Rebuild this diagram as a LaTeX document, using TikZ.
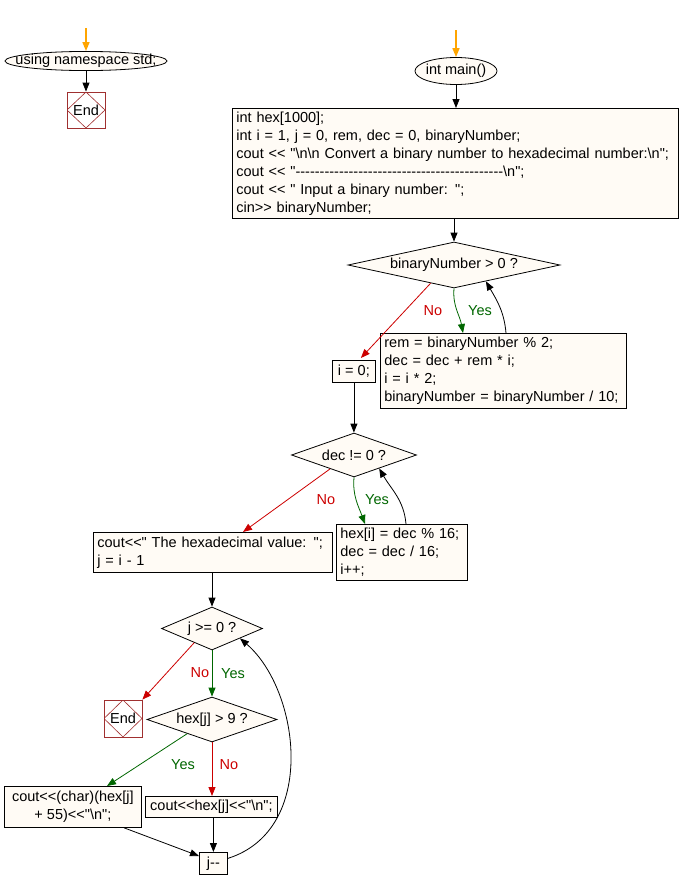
\documentclass[tikz,border=0pt]{standalone}
\usepackage{fontspec}
\setmainfont{Liberation Sans}[Ligatures=TeXOff]
\usepackage{xcolor}
\usetikzlibrary{shapes.geometric,arrows.meta,calc}

\definecolor{boxfill}{HTML}{FFFBF5}
\definecolor{endred}{HTML}{A03030}
\definecolor{nored}{HTML}{CC0000}
\definecolor{yesgreen}{HTML}{006600}
\definecolor{startorange}{HTML}{FFA500}

% text of zero width, so the shape keeps its given size
\newcommand{\zw}[1]{\makebox[0pt]{#1}}

\tikzset{
  proc/.style={draw, fill=boxfill, anchor=north west, align=left, inner xsep=4pt, inner ysep=0pt},
  small/.style={draw, fill=boxfill, anchor=north west, inner sep=0pt},
  term/.style={ellipse, draw, fill=boxfill, inner sep=0pt},
  cond/.style={diamond, draw, fill=boxfill, inner sep=0pt, aspect=4},
  endbox/.style={draw=endred, fill=white, minimum width=38, minimum height=36, inner sep=0pt,
    path picture={\draw[endred, line width=0.6pt] (path picture bounding box.north) -- (path picture bounding box.east)
      -- (path picture bounding box.south) -- (path picture bounding box.west) -- cycle;}},
  arr/.style={-{Triangle[length=9pt,width=7pt]}},
  startarr/.style={arr, draw=startorange, line width=1.6pt},
  noarr/.style={arr, draw=nored},
  yesarr/.style={arr, draw=yesgreen},
  nolab/.style={text=nored},
  yeslab/.style={text=yesgreen}
}

\begin{document}
\begin{tikzpicture}[x=1pt,y=-1pt,line width=0.8pt,font=\fontsize{14.5}{18}\selectfont]
\useasboundingbox (0,0) rectangle (678,889);

% using namespace
\coordinate (s1) at (86,28);
\node[term, minimum width=162, minimum height=18] (ns) at (86,61) {\zw{using namespace std;}};
\node[endbox] (end1) at (86,110) {End};
\draw[startarr] (s1) -- (ns);
\draw[arr] (ns) -- (end1);

% main
\coordinate (s2) at (456,30);
\node[term, minimum width=82, minimum height=27] (mn) at (456,71) {\zw{int main()}};
\node[proc, text width=438, minimum height=110] (b1) at (232,108) {int hex[1000];\\
int i = 1, j = 0, rem, dec = 0, binaryNumber;\\
cout << "\textbackslash n\textbackslash n Convert a binary number to hexadecimal number:\textbackslash n";\\
cout << "-------------------------------------------\textbackslash n";\\
cout << " Input a binary number: ";\\
cin>> binaryNumber;};
\draw[startarr] (s2) -- (mn);
\draw[arr] (mn) -- (mn |- b1.north);

% first loop
\node[cond, minimum width=212, minimum height=46] (d1) at (454,265) {\zw{binaryNumber > 0 ?}};
\node[proc, text width=238, minimum height=75] (b2) at (380,333) {rem = binaryNumber \% 2;\\
dec = dec + rem * i;\\
i = i * 2;\\
binaryNumber = binaryNumber / 10;};
\node[small, minimum width=43, minimum height=22] (i0) at (332,360) {i = 0;};
\draw[arr] (d1 |- b1.south) -- (d1);
\draw[noarr] ($(d1.south)!0.22!(d1.west)$) -- ($(i0.north)+(7,-2)$);
\draw[yesarr] (d1.south) to[out=-95,in=100] ($(b2.north west)+(83,0)$);
\draw[arr] ($(b2.north west)+(126,0)$) to[out=95,in=-60] ($(d1.south)!0.3!(d1.east)$);
\node[nolab] (no1) at (433,311) {No};
\node[yeslab] (yes1) at (480,311) {Yes};

% second loop
\node[cond, minimum width=125, minimum height=44] (d2) at (354,455) {\zw{dec != 0 ?}};
\node[proc, text width=123, minimum height=56] (b3) at (336,524) {hex[i] = dec \% 16;\\
dec = dec / 16;\\
i++;};
\node[proc, text width=231, minimum height=40] (b4) at (93,532) {cout<<" The hexadecimal value: ";\\
j = i - 1};
\draw[arr] (i0.south) -- (i0.south |- d2.north);
\draw[noarr] ($(d2.south)!0.38!(d2.west)$) -- ($(b4.north west)+(150,0)$);
\draw[yesarr] (d2.south) to[out=-95,in=110] ($(b3.north west)+(29,0)$);
\draw[arr] ($(b3.north west)+(70,0)$) to[out=95,in=-60] ($(d2.south)!0.4!(d2.east)$);
\node[nolab] (no2) at (326,500) {No};
\node[yeslab] (yes2) at (377,500) {Yes};

% print loop
\node[cond, minimum width=101, minimum height=43] (d3) at (212,628.5) {\zw{j >= 0 ?}};
\node[endbox, minimum height=37] (end2) at (123,718.5) {End};
\node[cond, minimum width=130, minimum height=45] (d4) at (212,719.5) {\zw{hex[j] > 9 ?}};
\node[small, minimum width=137, minimum height=41, align=center] (b5) at (4,786) {cout<<(char)(hex[j]\\+ 55)<<"\textbackslash n";};
\node[small, minimum width=132, minimum height=21] (b6) at (145,796) {cout<<hex[j]<<"\textbackslash n";};
\node[small, minimum width=28, minimum height=22] (jm) at (199,852) {j--};
\draw[arr] (d3 |- b4.south) -- (d3);
\draw[noarr] ($(d3.south)!0.35!(d3.west)$) -- (end2.north east);
\draw[yesarr] (d3) -- (d4);
\node[nolab] (no3) at (200,673) {No};
\node[yeslab] (yes3) at (233,674) {Yes};
\draw[yesarr] ($(d4.south)!0.38!(d4.west)$) -- ($(b5.north west)+(103,0)$);
\draw[noarr] (d4) -- (d4 |- b6.north);
\node[yeslab] (yes4) at (183,765) {Yes};
\node[nolab] (no4) at (229,765) {No};
\draw[arr] (jm |- b6.south) -- (jm);
\draw[arr] ($(b5.south west)+(120,0)$) -- ($(jm.north west)+(0,4)$);
\draw[arr] ($(jm.east)+(0,-5)$) .. controls (318,830) and (300,690) .. ($(d3.south)!0.55!(d3.east)$);
\end{tikzpicture}
\end{document}
